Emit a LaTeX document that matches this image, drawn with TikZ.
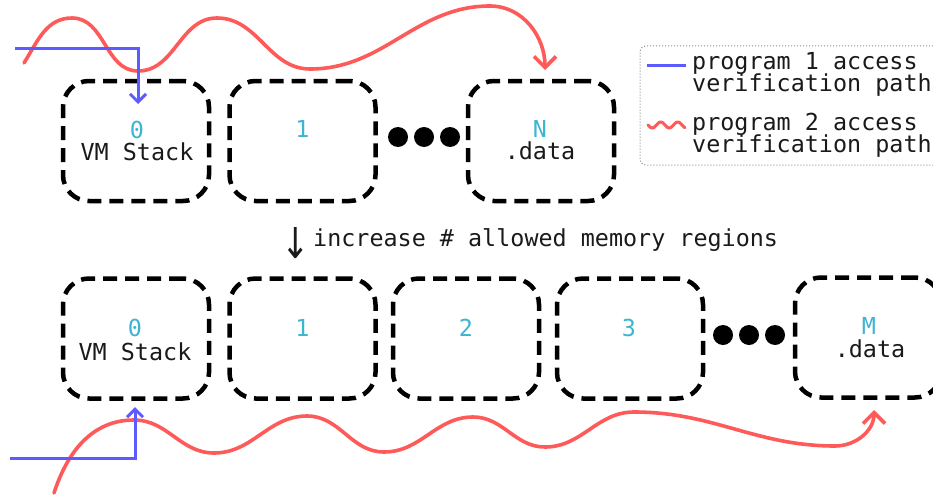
\documentclass[tikz,border=0pt]{standalone}
\usepackage{fontspec}
\newfontfamily\codefont{DejaVu Sans Mono}
\newfontfamily\arrowfont{DejaVu Sans}
\usetikzlibrary{arrows.meta,calc}
\definecolor{pathred}{HTML}{FF5A5A}
\definecolor{pathblue}{HTML}{5B5BFF}
\definecolor{idcyan}{HTML}{3CB4D2}
\definecolor{ink}{HTML}{1A1A1A}
\definecolor{framegray}{HTML}{8A8A8A}

\begin{document}
\begin{tikzpicture}[x=1pt,y=-1pt,
  txt/.style={font=\codefont\fontsize{23.4}{22}\selectfont, inner sep=0pt},
  membox/.style={draw=black, line width=4.5pt, dash pattern=on 14pt off 8pt,
    rounded corners=26pt, minimum width=146pt, minimum height=120pt, inner sep=0pt},
  idlbl/.style={txt, text=idcyan, anchor=base},
  namelbl/.style={txt, text=ink, anchor=base},
  legtxt/.style={txt, text=ink, anchor=base west},
  ellipsisdot/.style={circle, fill=black, minimum size=20pt, inner sep=0pt},
  redpath/.style={draw=pathred, line width=3.6pt, line cap=round},
  bluepath/.style={draw=pathblue, line width=3pt},
  redtip/.style={-{Straight Barb[length=11pt,width=22pt]}},
  bluetip/.style={-{Straight Barb[length=8pt,width=16pt]}},
  legendbox/.style={draw=framegray, line width=1pt, dotted, rounded corners=6pt,
    minimum width=305pt, minimum height=119pt, inner sep=0pt}
]
\useasboundingbox (0,0) rectangle (933,495);

% ---- upper row of memory regions ----
\node[membox] (t0) at (136,141) {};
\node[membox] (t1) at (302.5,141) {};
\node[membox] (tN) at (541,141) {};
\node[ellipsisdot] (td1) at (398,137) {};
\node[ellipsisdot] (td2) at (424,137) {};
\node[ellipsisdot] (td3) at (450,137) {};

\node[idlbl] (t0id) at (137,138) {0};
\node[namelbl] (t0name) at (137,160.5) {VM Stack};
\node[idlbl] (t1id) at (302.5,137) {1};
\node[idlbl] (tNid) at (540,137) {N};
\node[namelbl] (tNname) at (540,159) {.data};

% ---- caption between the rows ----
\node[font=\arrowfont\fontsize{34}{34}\selectfont, text=ink, inner sep=0pt, yscale=1.25]
  (downarrow) at (296,243) {↓};
\node[txt, text=ink, anchor=base west] (caption) at (313,246) {increase \# allowed memory regions};

% ---- lower row of memory regions ----
\node[membox] (b0) at (136,338.5) {};
\node[membox] (b1) at (302.5,338.5) {};
\node[membox] (b2) at (466,338.5) {};
\node[membox] (b3) at (630,338.5) {};
\node[membox] (bM) at (868,337.5) {};
\node[ellipsisdot] (bd1) at (723,335) {};
\node[ellipsisdot] (bd2) at (749,335) {};
\node[ellipsisdot] (bd3) at (775,335) {};

\node[idlbl] (b0id) at (135,336) {0};
\node[namelbl] (b0name) at (135,360) {VM Stack};
\node[idlbl] (b1id) at (302.5,336) {1};
\node[idlbl] (b2id) at (466,336) {2};
\node[idlbl] (b3id) at (629,336) {3};
\node[idlbl] (bMid) at (869,334) {M};
\node[namelbl] (bMname) at (870,357) {.data};

% ---- end points of the access paths ----
\coordinate (p1top) at (15,49);
\coordinate (p1topend) at (138,104);
\coordinate (p2top) at (24,63);
\coordinate (p2topend) at (545,70);
\coordinate (p1bot) at (10,458);
\coordinate (p1botend) at (135,407);
\coordinate (p2bot) at (54,493);
\coordinate (p2botend) at (874,410);

% program 2 path, upper row: wanders over everything, lands on region N
\draw[redpath, redtip] (p2top)
  to[out=58,in=180] (72,18)
  to[out=0,in=180] (138,71)
  to[out=0,in=180] (217,18)
  to[out=0,in=180] (310,69)
  to[out=0,in=180] (490,6)
  to[out=0,in=90] (p2topend);

% program 1 path, upper row: straight into region 0
\draw[bluepath, bluetip] (p1top) -| (p1topend);

% program 2 path, lower row: wanders under everything, lands on region M
\draw[redpath, redtip] (p2bot)
  to[out=72,in=180] (134,420)
  to[out=0,in=180] (214,453)
  to[out=0,in=180] (307,416)
  to[out=0,in=180] (384,452)
  to[out=0,in=180] (473,417)
  to[out=0,in=180] (545,447)
  to[out=0,in=180] (634,412)
  to[out=0,in=180] (835,446)
  to[out=0,in=-90] (p2botend);

% program 1 path, lower row
\draw[bluepath, bluetip] (p1bot) -| (p1botend);

% ---- legend ----
\node[legendbox] (legend) at (792.5,105.5) {};
\coordinate (lg1a) at (647,65);
\coordinate (lg1b) at (686,65);
\draw[bluepath] (lg1a) -- (lg1b);
\draw[redpath, line width=3pt] plot[domain=0:37, samples=60, smooth]
  ({648+\x}, {125 + 3*sin(\x*360/17)});
\node[legtxt] (lg1l1) at (692,69) {program 1 access};
\node[legtxt] (lg1l2) at (692,91) {verification path};
\node[legtxt] (lg2l1) at (692,130) {program 2 access};
\node[legtxt] (lg2l2) at (692,152) {verification path};
\end{tikzpicture}
\end{document}
